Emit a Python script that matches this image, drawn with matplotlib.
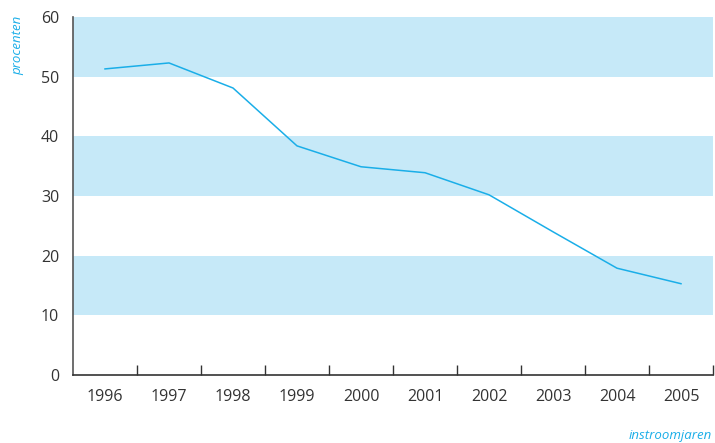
import matplotlib
matplotlib.use("Agg")
import matplotlib.pyplot as plt
import numpy as np

years = ["1996", "1997", "1998", "1999", "2000", "2001", "2002", "2003", "2004", "2005"]
values = [51.3, 52.3, 48.1, 38.4, 34.9, 33.9, 30.2, 24.0, 17.9, 15.3]
bands = [(10, 20), (30, 40), (50, 60)]
yticks = [0, 10, 20, 30, 40, 50, 60]

plt.rcParams['font.family'] = ['Open Sans', 'DejaVu Sans']
fig = plt.figure(figsize=(7.15, 4.43), dpi=100)
ax = fig.add_axes([73/715, 1-375/443, 640/715, (375-17)/443])

n = len(years)
x = np.arange(n) + 0.5
for lo, hi in bands:
    ax.axhspan(lo, hi, color="#c6e9f8", lw=0, zorder=0)
ax.plot(x, values, color="#1aaee8", lw=1.1, zorder=2)

ax.set_xlim(0, n)
ax.set_ylim(0, 60)
for s in ["top", "right"]:
    ax.spines[s].set_visible(False)
ax.spines["left"].set_color("#555555")
ax.spines["bottom"].set_color("#333333")
ax.spines["left"].set_linewidth(1.2)
ax.spines["bottom"].set_linewidth(1.2)

ax.set_xticks(np.arange(1, n + 1))
ax.set_xticklabels([])
ax.tick_params(axis="x", which="major", direction="in", length=7, width=1, color="#333333")
ax.set_xticks(x, minor=True)
ax.set_xticklabels(years, minor=True, fontsize=11.5, color="#333333")
ax.tick_params(axis="x", which="minor", length=0, pad=10)

ax.set_yticks(yticks)
ax.set_yticklabels([str(v) for v in yticks], fontsize=11.5, color="#333333")
ax.tick_params(axis="y", length=0, pad=10)

fig.text(18/715, 1-45/443, "procenten", rotation=90, style="italic", color="#1aaee8",
         fontsize=9.5, ha="center", va="center")
fig.text(712/715, 1-435/443, "instroomjaren", style="italic", color="#1aaee8",
         fontsize=9.5, ha="right", va="center")

fig.savefig("out.png", dpi=100)
